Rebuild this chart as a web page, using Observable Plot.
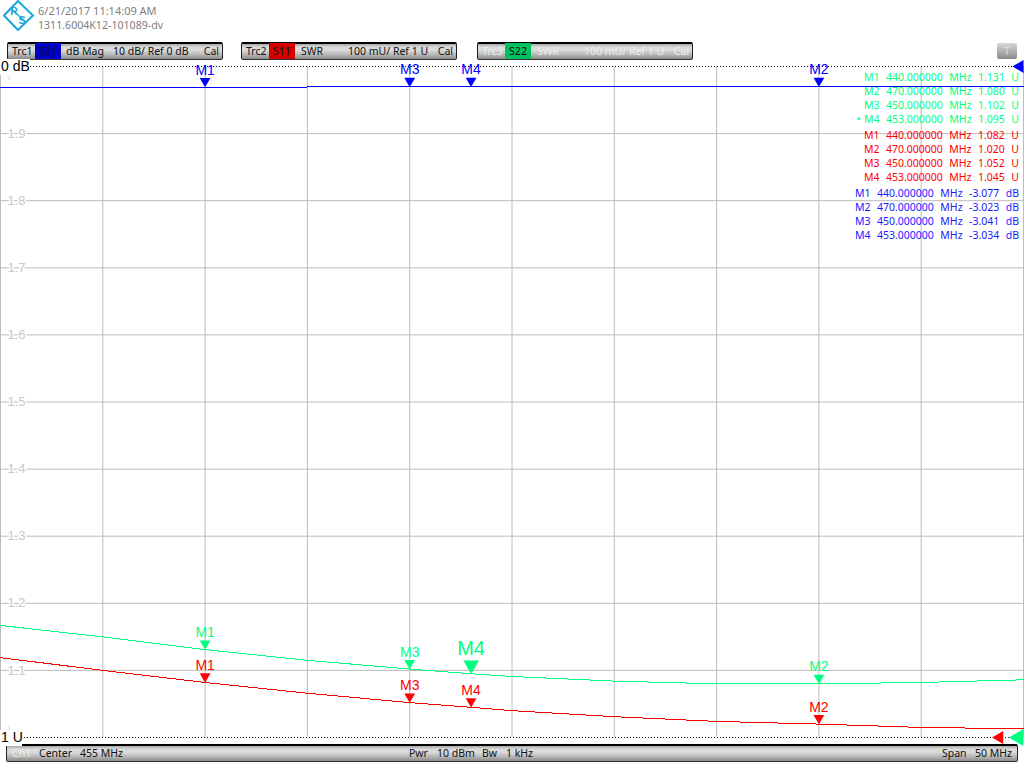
<!DOCTYPE html>
<html><head><meta charset="utf-8">
<script src="https://cdn.jsdelivr.net/npm/d3@7"></script>
<script src="https://cdn.jsdelivr.net/npm/@observablehq/plot@0.6"></script>
<style>
html,body{margin:0;padding:0;background:#fff;overflow:hidden}
#page{position:relative;width:1024px;height:768px;overflow:hidden;font-family:"Noto Sans",sans-serif}
#page svg.plot{position:absolute;left:0;top:0;background:transparent;z-index:2}
.hd{position:absolute;left:38px;font:11px "Noto Sans",sans-serif;color:#808080;white-space:pre;line-height:14px}
.bar{position:absolute;box-sizing:border-box;height:18px;border-top:2px solid #000;border-left:1px solid #222;border-right:1px solid #222;border-bottom:1px solid #333;border-radius:2px;
 background:linear-gradient(#a8a8a8 0,#d8d8d8 20%,#dcdcdc 40%,#b8b8b8 70%,#8a8a8a 100%);font:10.5px/15px "Noto Sans",sans-serif;color:#111;z-index:1}
.bar span{position:absolute;top:0;white-space:pre}
.bar .tag{top:-1px;height:16px;text-align:center;line-height:16px}
.rd{position:absolute;right:5px;font:10.5px/14px "Noto Sans",sans-serif;white-space:pre;z-index:3;word-spacing:.5px}
.ref{position:absolute;left:0;box-sizing:border-box;width:30px;height:16px;background:#fff;font:14px/15px "Liberation Sans",sans-serif;color:#000;padding:0 1px;z-index:3;white-space:pre}
</style></head><body><div id="page"></div>
<script>
const freq   = [430, 435, 440, 445, 450, 453, 455, 460, 465, 470, 475, 480];
const s22Swr = [1.167, 1.150, 1.131, 1.115, 1.102, 1.095, 1.091, 1.084, 1.080, 1.080, 1.082, 1.086];
const s11Swr = [1.119, 1.100, 1.082, 1.066, 1.052, 1.045, 1.040, 1.031, 1.024, 1.020, 1.015, 1.013];
const s21Db  = [-3.090, -3.085, -3.077, -3.056, -3.041, -3.034, -3.033, -3.028, -3.025, -3.023, -3.021, -3.020];

const markerNames = ["M1", "M2", "M3", "M4"];
const markerFreq  = [440, 470, 450, 453];
const markerS22   = [1.131, 1.080, 1.102, 1.095];
const markerS11   = [1.082, 1.020, 1.052, 1.045];
const markerS21   = [-3.077, -3.023, -3.041, -3.034];

const gridFreq = [430, 435, 440, 445, 450, 455, 460, 465, 470, 475, 480];
const gridSwr  = [1.0, 1.1, 1.2, 1.3, 1.4, 1.5, 1.6, 1.7, 1.8, 1.9, 2.0];
const tickSwr  = [1.1, 1.2, 1.3, 1.4, 1.5, 1.6, 1.7, 1.8, 1.9];

const green = "#00ff80", red = "#ff0000", blue = "#0000ff";
const dbToAxis = d => 2 + d / 100;   // trace 1: 10 dB/div against ref 0 dB, same grid as 100 mU/div

const trace = (ys, f = v => v) => freq.map((x, i) => ({x, y: f(ys[i])}));
const marks_ = (ys, f = v => v) => markerNames.map((name, i) => ({name, x: markerFreq[i], y: f(ys[i])}));

const g = marks_(markerS22), r = marks_(markerS11), b = marks_(markerS21, dbToAxis);
const gSmall = g.filter(d => d.name !== "M4"), gBig = g.filter(d => d.name === "M4");

const markerSet = (data, color) => [
  Plot.dot(data, {x: "x", y: "y", symbol: "triangle", rotate: 180, r: 4, dy: -6, fill: color, stroke: "none"}),
  Plot.text(data, {x: "x", y: "y", text: "name", dy: -17, fill: color, fontSize: 14, fontFamily: "Liberation Sans"})
];

const tickStyle = {frameAnchor: "left", textAnchor: "start", fontSize: 13, fontFamily: "Liberation Sans"};

const chart = Plot.plot({
  width: 1024, height: 768,
  marginLeft: 0, marginRight: 1, marginTop: 66, marginBottom: 31,
  style: {background: "transparent"},
  x: {domain: [430, 480], axis: null},
  y: {domain: [1, 2], axis: null},
  marks: [
    Plot.ruleX(gridFreq, {stroke: "#bcbcbc", strokeWidth: 1}),
    Plot.ruleY(gridSwr.slice(1, -1), {stroke: "#bcbcbc", strokeWidth: 1}),
    Plot.ruleY([1, 2], {stroke: "#000", strokeWidth: 1, strokeDasharray: "1,2"}),
    Plot.text(tickSwr, {y: d => d, text: d => d.toFixed(1), dx: 7, fill: "#c8c8c8", stroke: "#fff", strokeWidth: 3, ...tickStyle}),
    Plot.text([2], {y: d => d, text: d => String(d), dx: 7, dy: 11.5, fill: "#d0d0d0", ...tickStyle, fontSize: 5}),
    Plot.text([1], {y: d => d, text: d => String(d), dx: 7, dy: -9.5, fill: "#d0d0d0", ...tickStyle, fontSize: 5}),
    Plot.line(trace(s21Db, dbToAxis), {x: "x", y: "y", stroke: blue, strokeWidth: 1, shapeRendering: "crispEdges"}),
    Plot.line(trace(s22Swr), {x: "x", y: "y", stroke: green, strokeWidth: 1, shapeRendering: "crispEdges"}),
    Plot.line(trace(s11Swr), {x: "x", y: "y", stroke: red, strokeWidth: 1, shapeRendering: "crispEdges"}),
    ...markerSet(b, blue),
    ...markerSet(r, red),
    ...markerSet(gSmall, green),
    Plot.dot(gBig, {x: "x", y: "y", symbol: "triangle", rotate: 180, r: 5.8, dy: -8.8, fill: green, stroke: "none"}),
    Plot.text(gBig, {x: "x", y: "y", text: "name", dy: -25, fill: green, fontSize: 20, fontFamily: "Liberation Sans"}),
    // reference-level arrows on the right edge
    Plot.dot([2], {y: d => d, frameAnchor: "right", symbol: "triangle", rotate: -90, r: 4.8, dx: -3.7, fill: blue, stroke: "none"}),
    Plot.dot([1], {y: d => d, frameAnchor: "right", symbol: "triangle", rotate: -90, r: 4.8, dx: -24, fill: red, stroke: "none"}),
    Plot.dot([1], {y: d => d, frameAnchor: "right", symbol: "triangle", rotate: -90, r: 6.3, dx: -5, fill: green, stroke: "none"})
  ]
});

const page = document.getElementById("page");
page.appendChild(chart);

function el(cls, style, html, parent = page) {
  const e = document.createElement("div");
  e.className = cls; e.style.cssText = style; e.innerHTML = html;
  parent.appendChild(e); return e;
}

// logo
el("", "position:absolute;left:3px;top:0;width:32px;height:31px",
 `<svg width="32" height="31" viewBox="0 0 32 31"><g fill="none" stroke="#1aa7d6" stroke-width="2">
  <path d="M15 1 L30 15.5 L15 30 L1 15.5 Z"/><path d="M8 8.5 L23 22.5" stroke-width="1.4"/></g>
  <text x="11" y="15" font-size="10.5" font-family="Liberation Sans" fill="#1aa7d6" text-anchor="middle" font-weight="bold">R</text>
  <text x="19" y="24" font-size="10.5" font-family="Liberation Sans" fill="#1aa7d6" text-anchor="middle" font-weight="bold">S</text></svg>`);

el("hd", "top:4px", "6/21/2017 11:14:09 AM");
el("hd", "top:18px;font-size:10.6px", "1311.6004K12-101089-dv");

// trace headers
const traces = [
  {left: 7,   name: "Trc1", s: "S21", bg: "#0000c8", sc: "#111", fmt: "dB Mag", scale: "10 dB/ Ref 0 dB", fg: "#111", sx: 58, st: 105},
  {left: 241, name: "Trc2", s: "S11", bg: "#d40000", sc: "#111", fmt: "SWR", scale: "100 mU/ Ref 1 U", fg: "#111", sx: 59, st: 106},
  {left: 477, name: "Trc3", s: "S22", bg: "#00c060", sc: "#111", fmt: "SWR", scale: "100 mU/ Ref 1 U", fg: "#eee", sx: 59, st: 106}
];
for (const t of traces) {
  const bar = el("bar", `left:${t.left}px;top:42px;width:216px;color:${t.fg}`, "");
  bar.innerHTML =
   `<span style="left:4px">${t.name}</span>` +
   `<span class="tag" style="left:27px;width:26px;background:${t.bg};color:${t.sc}">${t.s}</span>` +
   `<span style="left:${t.sx}px">${t.fmt}</span>` +
   `<span style="left:${t.st}px">${t.scale}</span>` +
   `<span style="right:3px">Cal</span>`;
}
el("bar", "left:997px;top:43px;width:20px;height:16px;border:none;text-align:center;color:#ddd;line-height:16px;background:linear-gradient(#d8d8d8,#8a8a8a)", "T");

// status bar
const status = el("bar", "left:6px;top:744px;width:1012px;height:18px", "");
status.innerHTML = `<span style="left:5px;color:#eee">Ch1</span><span style="left:32px">Center</span><span style="left:73px">455 MHz</span>
 <span style="left:402px">Pwr</span><span style="left:430px">10 dBm</span><span style="left:475px">Bw</span><span style="left:499px">1 kHz</span>
 <span style="left:935px">Span</span><span style="right:5px">50 MHz</span>`;

// reference labels
el("ref", "top:59px", "0 dB");
el("ref", "top:730px;width:22px", "1 U");

// marker readouts
const row = (i, v, digits, unit, sep) => `${markerNames[i]}  ${markerFreq[i].toFixed(6)}  MHz${sep}${v.toFixed(digits)}  ${unit}`;
markerNames.forEach((_, i) => {
  el("rd", `top:${70 + 14 * i}px;color:${green}`, (i === 3 ? "• " : "") + row(i, markerS22[i], 3, "U", "  "));
  el("rd", `top:${128 + 14 * i}px;color:${red}`, row(i, markerS11[i], 3, "U", "  "));
  el("rd", `top:${186 + 14 * i}px;color:#1a1aff`, row(i, markerS21[i], 3, "dB", "  "));
});
</script></body></html>
